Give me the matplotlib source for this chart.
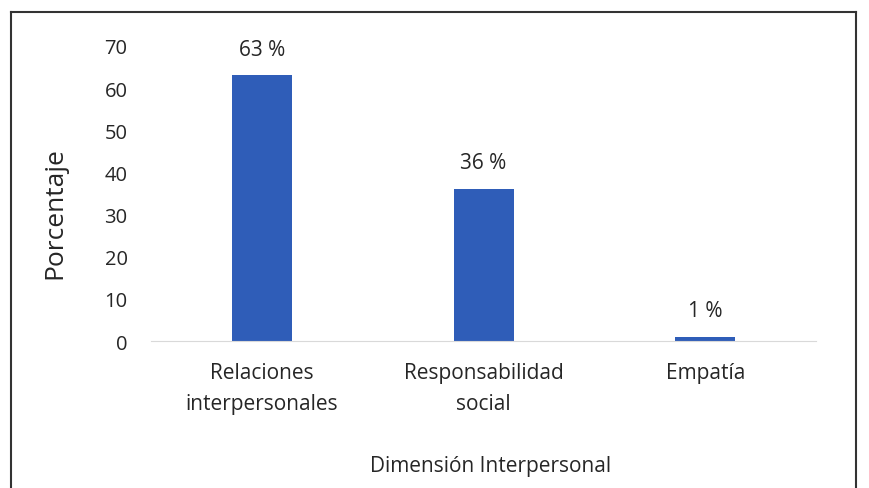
import matplotlib.pyplot as plt
from matplotlib.lines import Line2D

categorias = ["Relaciones\ninterpersonales", "Responsabilidad\nsocial", "Empatía"]
porcentajes = [63, 36, 1]
etiquetas = ["63 %", "36 %", "1 %"]
yticks = [0, 10, 20, 30, 40, 50, 60, 70]

plt.rcParams['font.family'] = ['Open Sans', 'DejaVu Sans']

fig = plt.figure(figsize=(8.69, 4.89), dpi=100)
ax = fig.add_axes([0.174, 0.3006, 0.765, 0.6033])

x = range(len(categorias))
bars = ax.bar(x, porcentajes, width=0.27, color='#2F5DB8')
for b, lab in zip(bars, etiquetas):
    ax.annotate(lab, (b.get_x() + b.get_width() / 2, b.get_height()),
                xytext=(0, 11.5), textcoords='offset points',
                ha='center', va='bottom', fontsize=15, color='#262626')

ax.set_xlim(-0.5, 2.5)
ax.set_ylim(0, 70)
ax.set_yticks(yticks)
ax.set_xticks(list(x))
ax.set_xticklabels(categorias, fontsize=15, color='#262626', linespacing=1.65)
ax.tick_params(axis='y', labelsize=14.5, colors='#262626', length=0, pad=17)
ax.tick_params(axis='x', length=0, pad=15)
for s in ['top', 'right', 'left']:
    ax.spines[s].set_visible(False)
ax.spines['bottom'].set_color('#d9d9d9')

ax.set_ylabel("Porcentaje", fontsize=19, color='#262626')
ax.yaxis.set_label_coords(-0.126, 0.437)
ax.set_xlabel("Dimensión Interpersonal", fontsize=15, color='#262626')
ax.xaxis.set_label_coords(0.511, -0.385)

# chart border (top, left, right)
H, W = 489, 869
fig.add_artist(Line2D([11 / W, 856 / W], [1 - 13 / H, 1 - 13 / H], color='#333333', lw=1.5))
fig.add_artist(Line2D([11 / W, 11 / W], [0, 1 - 13 / H], color='#333333', lw=1.5))
fig.add_artist(Line2D([856 / W, 856 / W], [0, 1 - 13 / H], color='#333333', lw=1.5))

fig.savefig('out.png', dpi=100)
